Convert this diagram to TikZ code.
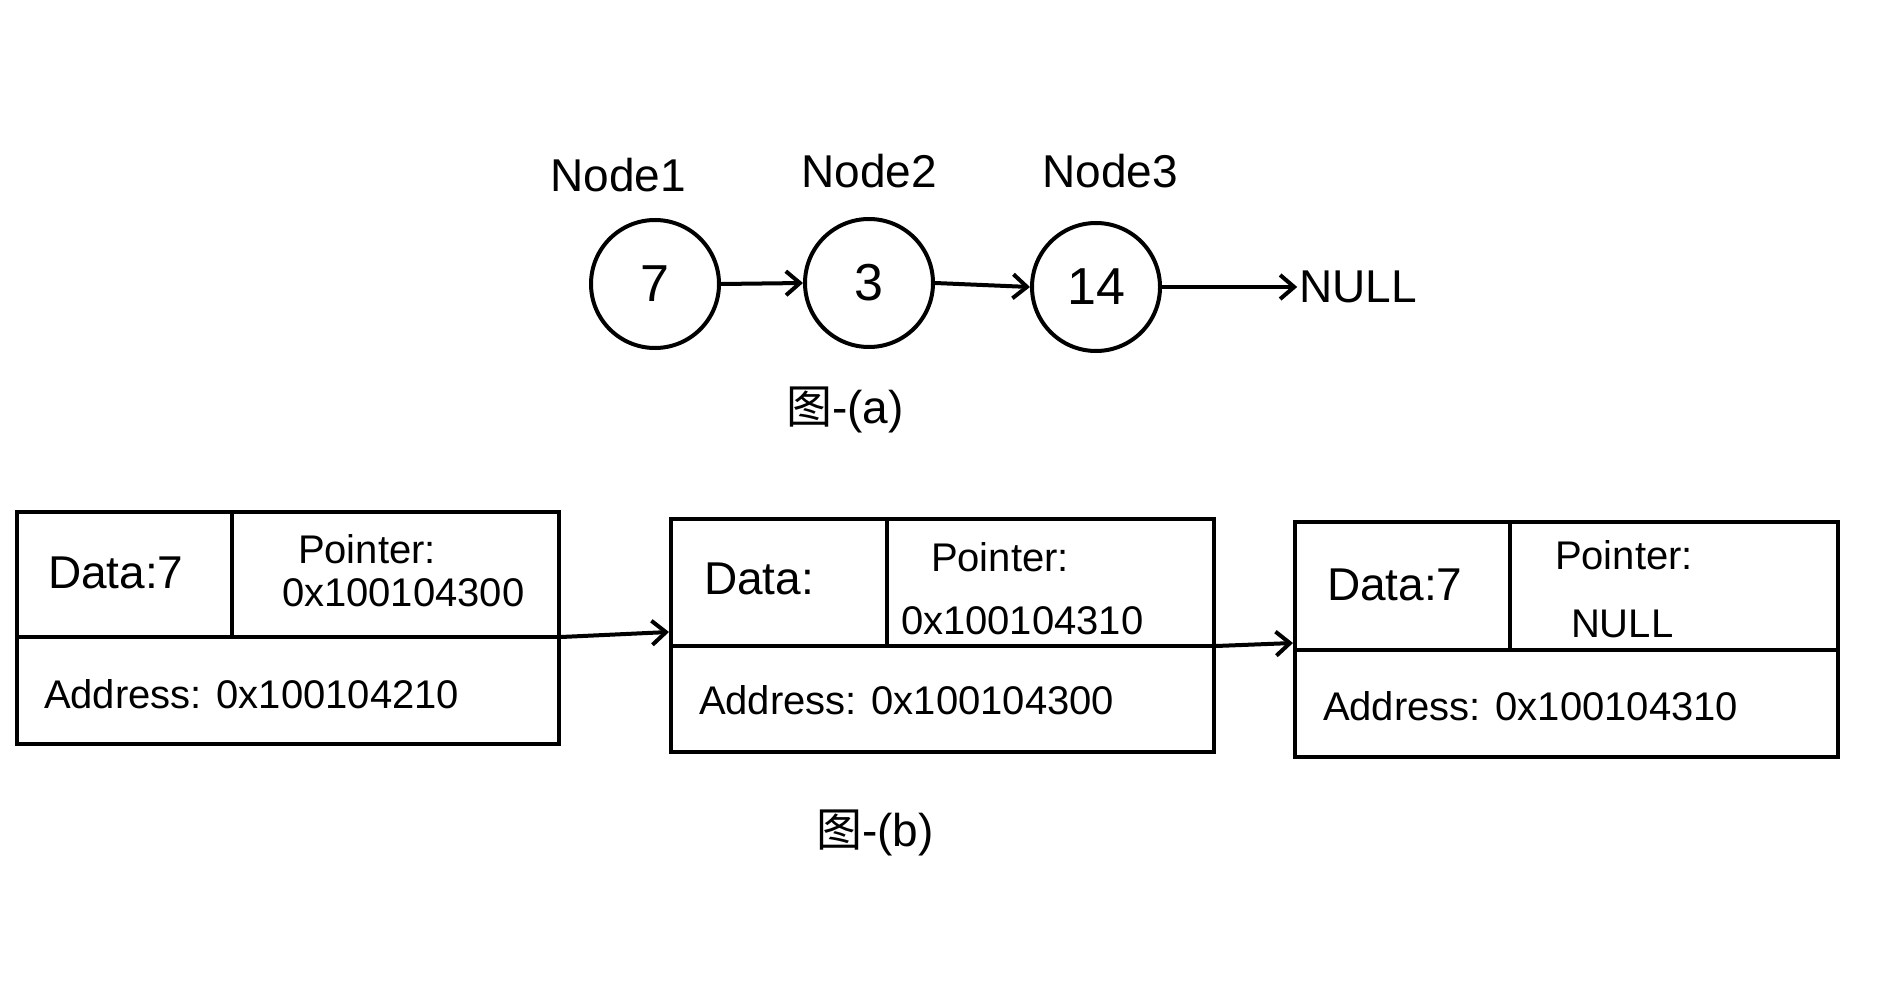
\documentclass[tikz,border=0pt]{standalone}
\usepackage{fontspec}
\setmainfont{Liberation Sans}
\newfontfamily\cjk{Noto Sans CJK SC}
\usetikzlibrary{arrows.meta}
\begin{document}
\begin{tikzpicture}[x=1pt,y=-1pt, line width=4pt,
  circ/.style={draw, circle, minimum size=128pt, inner sep=0pt, font=\fontsize{52}{60}\selectfont},
  lbl/.style={font=\fontsize{46}{54}\selectfont, inner sep=0pt},
  txt/.style={font=\fontsize{40}{48}\selectfont, inner sep=0pt, anchor=west},
  bigtxt/.style={font=\fontsize{46}{54}\selectfont, inner sep=0pt, anchor=west},
  figcap/.style={font=\fontsize{46}{54}\selectfont, inner sep=0pt},
  box/.style={draw, rectangle, inner sep=0pt},
  arr/.style={-{Straight Barb[length=14pt,width=24pt]}, line width=4pt}]
\useasboundingbox[fill=white] (0,0) rectangle (1892,1000);

% ---- figure (a)
\node[circ] (c1) at (655,284) {7};
\node[circ] (c2) at (869,283) {3};
\node[circ] (c3) at (1096,287) {14};
\node[lbl] (null) at (1358,287) {NULL};
\node[lbl] (l1) at (618,175) {Node1};
\node[lbl] (l2) at (869,171) {Node2};
\node[lbl] (l3) at (1110,171) {Node3};
\draw[arr] (c1.east) -- (c2.west);
\draw[arr] (c2.east) -- (c3.west);
\draw[arr] (c3.east) -- (null.west);
\node[figcap] (capa) at (845,410) {{\cjk 图}-(a)};

% ---- figure (b)
\node[box, minimum width=542pt, minimum height=232pt] (b1) at (288,628) {};
\node[box, minimum width=543pt, minimum height=233pt] (b2) at (942.5,635.5) {};
\node[box, minimum width=543pt, minimum height=235pt] (b3) at (1566.5,639.5) {};

\draw ([yshift=-127pt]b1.north west) -- ([yshift=-127pt]b1.north east);
\draw ([xshift=217pt]b1.north west) -- ([xshift=217pt,yshift=-127pt]b1.north west);
\draw ([yshift=-129pt]b2.north west) -- ([yshift=-129pt]b2.north east);
\draw ([xshift=218pt]b2.north west) -- ([xshift=218pt,yshift=-129pt]b2.north west);
\draw ([yshift=-130pt]b3.north west) -- ([yshift=-130pt]b3.north east);
\draw ([xshift=217pt]b3.north west) -- ([xshift=217pt,yshift=-130pt]b3.north west);

\node[bigtxt] (d1) at (46,573) {Data:7};
\node[txt] (p1) at (296,549) {Pointer:};
\node[txt] (v1) at (280,593) {0x100104300};
\node[txt] (a1) at (42,694) {Address: 0x100104210};

\node[bigtxt] (d2) at (702,579) {Data:};
\node[txt] (p2) at (929,557) {Pointer:};
\node[txt] (v2) at (899,621) {0x100104310};
\node[txt] (a2) at (697,700) {Address: 0x100104300};

\node[bigtxt] (d3) at (1325,585) {Data:7};
\node[txt] (p3) at (1553,555) {Pointer:};
\node[txt] (v3) at (1569,624) {NULL};
\node[txt] (a3) at (1321,706) {Address: 0x100104310};

\draw[arr] ([yshift=-127pt]b1.north east) -- ([yshift=-115pt]b2.north west);
\draw[arr] ([yshift=-129pt]b2.north east) -- ([yshift=-123pt]b3.north west);

\node[figcap] (capb) at (875,833) {{\cjk 图}-(b)};
\end{tikzpicture}
\end{document}
